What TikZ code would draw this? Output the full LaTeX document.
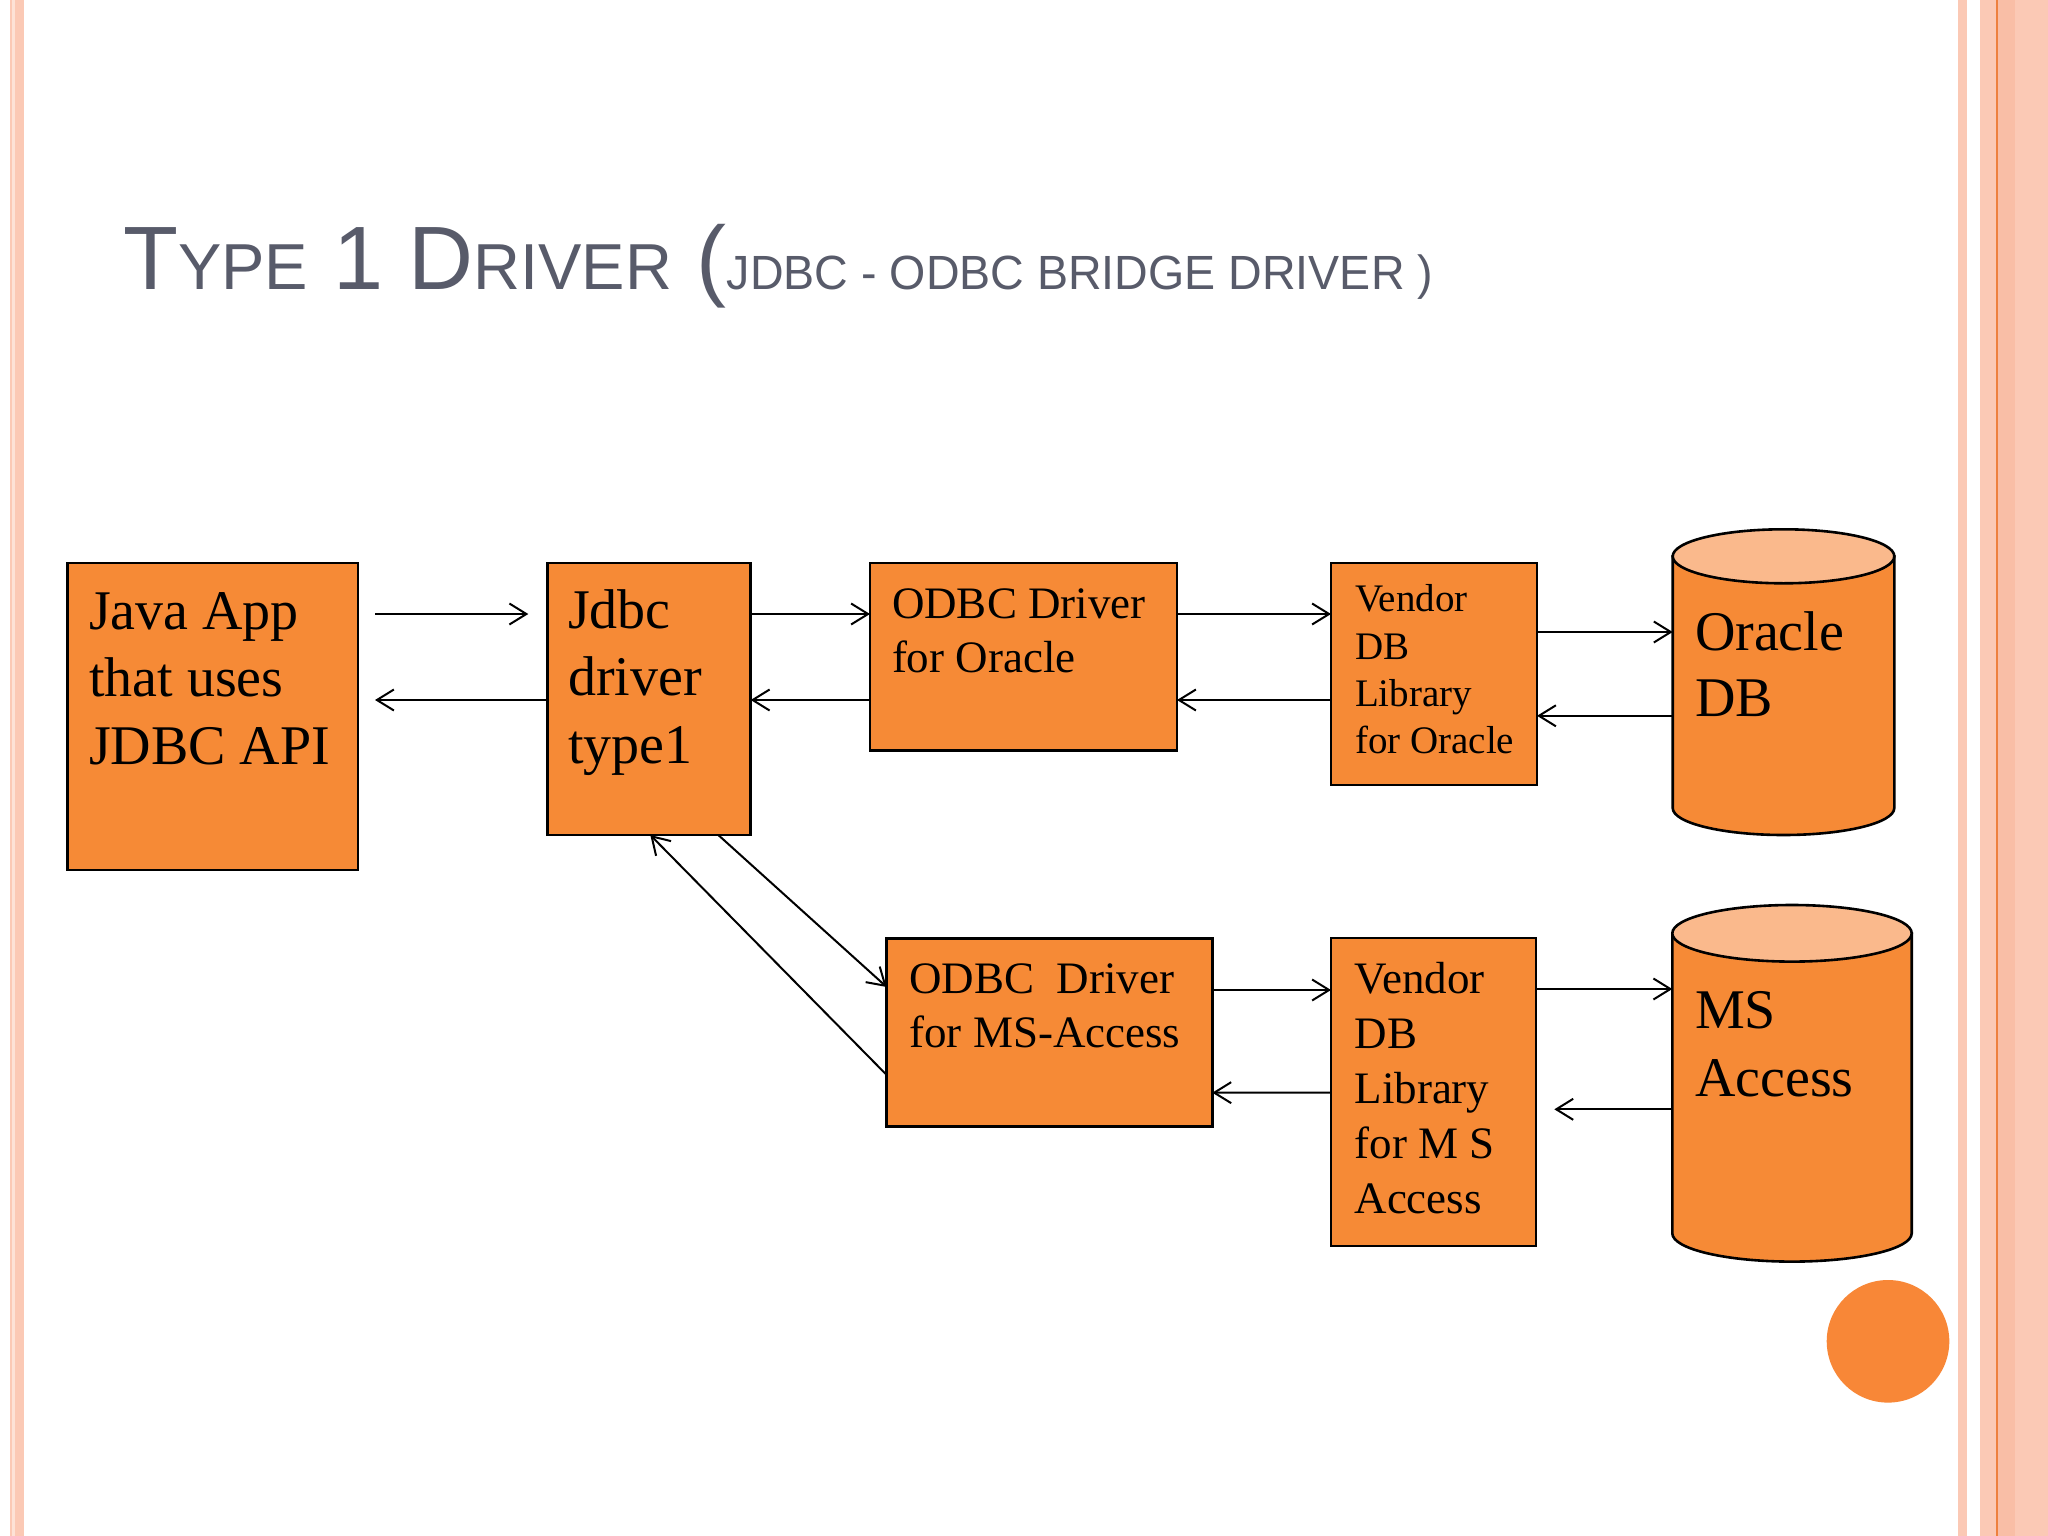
\documentclass[tikz,border=0pt]{standalone}
\usepackage{fontspec}
\setmainfont{Liberation Serif}
\newfontfamily\titlefont{Liberation Sans}
\usepackage{graphicx}
\usetikzlibrary{arrows.meta}
\definecolor{boxorange}{RGB}{246,138,54}
\definecolor{toporange}{RGB}{250,185,140}
\definecolor{dotorange}{RGB}{248,135,55}
\definecolor{stripepink}{RGB}{251,201,181}
\definecolor{stripelight}{RGB}{253,226,214}
\definecolor{stripedark}{RGB}{249,190,166}
\definecolor{stripeline}{RGB}{238,128,62}
\definecolor{titlegray}{RGB}{88,91,106}
\newcommand\mlines[1]{\begin{tabular}[t]{@{}l@{}}#1\end{tabular}}
\newcommand\TitBig{\fontsize{90}{96}\selectfont}
\newcommand\TitSmall{\fontsize{65}{70}\selectfont}
\tikzset{
  box/.style={draw=black, line width=2.6pt, fill=boxorange, inner sep=0pt, outer sep=0pt, anchor=north west},
  zone/.style={inner sep=0pt, outer sep=0pt, anchor=north west},
  lbl/.style={anchor=base west, inner sep=0pt, outer sep=0pt, text=black},
  arr/.style={line width=2pt, -{Straight Barb[length=17pt,width=21pt]}},
  cylbody/.style={draw=black, line width=2.6pt, fill=boxorange},
  cyltop/.style={draw=black, line width=2.6pt, fill=toporange}
}
\begin{document}
\begin{tikzpicture}[x=1pt,y=-1pt]
\useasboundingbox (0,0) rectangle (2048,1536);
\fill[white] (0,0) rectangle (2048,1536);
% border stripes
\fill[stripepink] (10,0) rectangle (24,1536);
\fill[stripelight] (12,0) rectangle (15.3,1536);
\fill[stripepink] (1958,0) rectangle (1967,1536);
\fill[stripepink] (1980,0) rectangle (2048,1536);
\fill[stripedark] (1998,0) rectangle (2015,1536);
\fill[stripeline] (1995.7,0) rectangle (1998.3,1536);
% title
\node[anchor=base west, inner sep=0pt, text=titlegray] (title) at (123,289)
  {\titlefont\TitBig T\TitSmall YPE\TitBig{} 1 D\TitSmall RIVER\TitBig{} (\scalebox{0.97}[1]{\fontsize{48}{52}\selectfont JDBC - ODBC BRIDGE DRIVER )}};
% boxes
\node[box, minimum width=290.5pt, minimum height=307pt] (java) at (67.5,563) {};
\node[box, minimum width=203.4pt, minimum height=272pt] (jdbc) at (547.3,563) {};
\node[box, minimum width=307pt, minimum height=187.5pt] (odbcO) at (870,563) {};
\node[box, minimum width=206pt, minimum height=222pt] (vendO) at (1331,563) {};
\node[box, minimum width=325.6pt, minimum height=188.4pt] (odbcM) at (886.7,938.3) {};
\node[box, minimum width=205pt, minimum height=308pt] (vendM) at (1331,938) {};
\node[zone, minimum width=221.6pt, minimum height=305.7pt] (oracle) at (1672.7,529.3) {};
\node[zone, minimum width=239.4pt, minimum height=356.7pt] (access) at (1672.3,905) {};
% cylinders
\filldraw[cylbody] (1672.7,556.3) -- (1672.7,808) arc[start angle=180, end angle=360, x radius=110.8pt, y radius=27pt] -- (1894.3,556.3) -- cycle;
\filldraw[cyltop] (1783.5,556.3) ellipse[x radius=110.8pt, y radius=27pt];
\filldraw[cylbody] (1672.3,933.3) -- (1672.3,1233.3) arc[start angle=180, end angle=360, x radius=119.7pt, y radius=28.3pt] -- (1911.7,933.3) -- cycle;
\filldraw[cyltop] (1792,933.3) ellipse[x radius=119.7pt, y radius=28.3pt];
% decorative dot
\fill[dotorange] (1888,1341.3) circle[radius=61.3pt];
% labels
\node[lbl] (javaT) at (89,629) {\fontsize{56}{67.5}\selectfont\mlines{Java App\\that uses\\JDBC API}};
\node[lbl] (jdbcT) at (568,628.3) {\fontsize{56}{67.5}\selectfont\mlines{Jdbc\\driver\\type1}};
\node[lbl] (odbcOT) at (892,618.4) {\fontsize{45}{54}\selectfont\mlines{ODBC Driver\\for Oracle}};
\node[lbl] (vendOT) at (1355,611.7) {\fontsize{39}{47.3}\selectfont\mlines{Vendor\\DB\\Library\\for Oracle}};
\node[lbl] (odbcMT) at (909.3,993.3) {\fontsize{45}{54}\selectfont\mlines{ODBC\ \ Driver\\for MS-Access}};
\node[lbl] (vendMT) at (1354.5,993.3) {\fontsize{45}{55}\selectfont\mlines{Vendor\\DB\\Library\\for M S\\Access}};
\node[lbl] (oracleT) at (1695,650) {\fontsize{56}{66.7}\selectfont\mlines{Oracle\\DB}};
\node[lbl] (accessT) at (1695,1028.3) {\fontsize{56}{68.4}\selectfont\mlines{MS\\Access}};
% connectors
\draw[arr] ([xshift=17pt,yshift=-51pt]java.north east) -- ([xshift=-19pt,yshift=-51pt]jdbc.north west);
\draw[arr] ([yshift=-137pt]jdbc.north west) -- ([xshift=17pt,yshift=-137pt]java.north east);
\draw[arr] ([yshift=-51pt]jdbc.north east) -- ([yshift=-51pt]odbcO.north west);
\draw[arr] ([yshift=-137pt]odbcO.north west) -- ([yshift=-137pt]jdbc.north east);
\draw[arr] ([yshift=-51pt]odbcO.north east) -- ([yshift=-51pt]vendO.north west);
\draw[arr] ([yshift=-137pt]vendO.north west) -- ([yshift=-137pt]odbcO.north east);
\draw[arr] ([yshift=-69pt]vendO.north east) -- ([yshift=-102.7pt]oracle.north west);
\draw[arr] ([yshift=-186.5pt]oracle.north west) -- ([yshift=-152.8pt]vendO.north east);
\draw[arr] ([xshift=171pt]jdbc.south west) -- ([yshift=-48.7pt]odbcM.north west);
\draw[arr] ([yshift=-136.7pt]odbcM.north west) -- ([xshift=103pt]jdbc.south west);
\draw[arr] ([yshift=-51.7pt]odbcM.north east) -- ([yshift=-52pt]vendM.north west);
\draw[arr] ([yshift=-154.5pt]vendM.north west) -- ([yshift=-154.4pt]odbcM.north east);
\draw[arr] ([yshift=-51pt]vendM.north east) -- ([yshift=-84pt]access.north west);
\draw[arr] ([yshift=-204.3pt]access.north west) -- ([xshift=18.3pt,yshift=-171.3pt]vendM.north east);
\end{tikzpicture}
\end{document}
